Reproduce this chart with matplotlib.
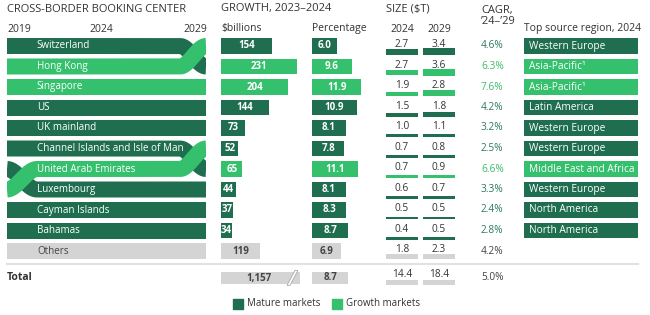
import matplotlib.pyplot as plt
import numpy as np

plt.rcParams['font.family'] = ['Open Sans', 'DejaVu Sans']

# data
centers = ["Switzerland", "Hong Kong", "Singapore", "US", "UK mainland",
           "Channel Islands and Isle of Man", "United Arab Emirates",
           "Luxembourg", "Cayman Islands", "Bahamas", "Others"]
market = ["mature", "growth", "growth", "mature", "mature", "mature",
          "growth", "mature", "mature", "mature", "other"]
rank_2019 = [0, 1, 2, 3, 4, 5, 7, 6, 8, 9, 10]
rank_2024 = [0, 1, 2, 3, 4, 5, 6, 7, 8, 9, 10]
rank_2029 = [1, 0, 2, 3, 4, 6, 5, 7, 8, 9, 10]
growth_bn = [154, 231, 204, 144, 73, 52, 65, 44, 37, 34, 119]
growth_pct = [6.0, 9.6, 11.9, 10.9, 8.1, 7.8, 11.1, 8.1, 8.3, 8.7, 6.9]
size_2024 = [2.7, 2.7, 1.9, 1.5, 1.0, 0.7, 0.7, 0.6, 0.5, 0.4, 1.8]
size_2029 = [3.4, 3.6, 2.8, 1.8, 1.1, 0.8, 0.9, 0.7, 0.5, 0.5, 2.3]
cagr = [4.6, 6.3, 7.6, 4.2, 3.2, 2.5, 6.6, 3.3, 2.4, 2.8, 4.2]
source_region = ["Western Europe", "Asia-Pacific\u00b9", "Asia-Pacific\u00b9",
                 "Latin America", "Western Europe", "Western Europe",
                 "Middle East and Africa", "Western Europe", "North America",
                 "North America"]
total_bn = 1157
total_pct = 8.7
total_2024 = 14.4
total_2029 = 18.4
total_cagr = 5.0

DARK = '#1e6e4f'
LIGHT = '#34c06c'
GRAY = '#d4d4d4'
TXT = '#333333'
fill = {'mature': DARK, 'growth': LIGHT, 'other': GRAY}
cagr_col = {'mature': '#2c7a5a', 'growth': '#3dbb6a', 'other': '#444444'}

W, H = 650, 315
ROW, TOP = 20.5, 46.0
BH = 0.78  # bar height in rows


def py(px):
    return (px - TOP) / ROW


fig = plt.figure(figsize=(W / 100, H / 100), dpi=100)
ax = fig.add_axes([0, 0, 1, 1])
ax.set_xlim(0, W)
ax.set_ylim(py(H), py(0))
ax.axis('off')


def panel(x0, width):
    a = fig.add_axes([x0 / W, 0, width / W, 1])
    a.set_ylim(py(H), py(0))
    a.axis('off')
    return a


# headers
hd = dict(fontsize=8, color=TXT, va='center')
ax.text(7, py(9), "CROSS-BORDER BOOKING CENTER", **hd)
ax.text(221, py(9), "GROWTH, 2023\u20132024", **hd)
ax.text(386, py(9), "SIZE ($T)", **hd)
ax.text(481, py(10), "CAGR,", **hd)
ax.text(481, py(21), "\u201924\u2013\u201929", **hd)
sub = dict(fontsize=7.5, color=TXT, va='center')
ax.text(7, py(29), "2019", **sub)
ax.text(101, py(29), "2024", ha='center', **sub)
ax.text(207, py(29), "2029", ha='right', **sub)
ax.text(221, py(29), "$billions", **sub)
ax.text(312, py(29), "Percentage", **sub)
ax.text(402, py(29), "2024", ha='center', **sub)
ax.text(439, py(29), "2029", ha='center', **sub)
ax.text(524, py(29), "Top source region, 2024", **sub)

# bump chart of booking centers
axb = panel(7, 199)
axb.set_xlim(2019, 2029)
xs = np.linspace(2019, 2029, 800)
band_pt = BH * ROW * 0.72  # band thickness in points


def smooth(t):
    t = np.clip(t, 0, 1)
    return 3 * t ** 2 - 2 * t ** 3


for i, name in enumerate(centers):
    r19, r24, r29 = rank_2019[i], rank_2024[i], rank_2029[i]
    yc = np.full_like(xs, float(r24))
    left = xs < 2020.5
    yc[left] = r19 + (r24 - r19) * smooth((xs[left] - 2019) / 1.5)
    right = xs > 2027.7
    yc[right] = r24 + (r29 - r24) * smooth((xs[right] - 2027.7) / 1.3)
    z = 3 if market[i] == 'growth' else 2
    axb.plot(xs, yc, color=fill[market[i]], lw=band_pt,
             solid_capstyle='butt', zorder=z)
    axb.text(2020.5 if market[i] != 'other' else 2020.55, r24, name,
             color='white' if market[i] != 'other' else '#444444',
             fontsize=7.1, va='center', zorder=5)

# growth in $billions
PX_BN = 0.33
axbn = panel(221, 120)
axbn.set_xlim(0, 120 / PX_BN)
cols = [fill[m] for m in market]
axbn.barh(rank_2024, growth_bn, height=BH, color=cols)
for r, v, m in zip(rank_2024, growth_bn, market):
    axbn.text(v / 2, r, f"{v}", ha='center', va='center', fontsize=7,
              fontweight='bold', color='white' if m != 'other' else '#444444')
yt = py(278)
shown = 79 / PX_BN  # broken bar, truncated
axbn.barh(yt, shown, height=BH * 0.8, color=GRAY)
yb0, yb1 = yt + BH * 0.4, yt - BH * 0.4
brk = np.array([(200, yb0 + 0.05), (209, yb0 + 0.05), (233, yb1 - 0.05), (224, yb1 - 0.05)])
axbn.fill(brk[:, 0], brk[:, 1], color='white', ec='#aaaaaa', lw=0.6, zorder=3)
axbn.text(shown / 2 - 5, yt, f"{total_bn:,}", ha='center', va='center',
          fontsize=7, fontweight='bold', color='#444444')

# growth in percent
PX_PCT = 4.15
axp = panel(312, 60)
axp.set_xlim(0, 60 / PX_PCT)
axp.barh(rank_2024, growth_pct, height=BH, color=cols)
for r, v, m in zip(rank_2024, growth_pct, market):
    axp.text(v / 2, r, f"{v:.1f}", ha='center', va='center', fontsize=7,
             fontweight='bold', color='white' if m != 'other' else '#444444')
axp.barh(yt, total_pct, height=BH * 0.8, color=GRAY)
axp.text(total_pct / 2, yt, f"{total_pct:.1f}", ha='center', va='center',
         fontsize=7, fontweight='bold', color='#444444')

# size ($T) with underlines
for xc, vals in ((402, size_2024), (439, size_2029)):
    for r, v, m in zip(rank_2024, vals, market):
        th = (5 if m == 'other' else 1.5 + 1.5 * v) / ROW
        base = r + (8 if m == 'other' else 9) / ROW
        ax.bar(xc, th, width=32, bottom=base - th, color=fill[m])
        ax.text(xc, r - 0.07, f"{v:.1f}", ha='center', va='center',
                fontsize=7.3, color=TXT)
for xc, v in ((402, total_2024), (439, total_2029)):
    th = 5 / ROW
    ax.bar(xc, th, width=32, bottom=py(285) - th, color=GRAY)
    ax.text(xc, py(274.5), f"{v:.1f}", ha='center', va='center',
            fontsize=7.3, color=TXT)

# CAGR
for r, v, m in zip(rank_2024, cagr, market):
    ax.text(481, r, f"{v:.1f}%", va='center', fontsize=7.3, color=cagr_col[m])
ax.text(481, py(277), f"{total_cagr:.1f}%", va='center', fontsize=7.3,
        color='#444444')

# top source region
for r, reg, m in zip(rank_2024, source_region, market):
    ax.barh(r, 114, left=524, height=BH, color=fill[m])
    ax.text(529, r, reg, va='center', fontsize=7.3, color='white')

# total row and separator
ax.plot([7, 638], [py(263.5)] * 2, color='#e2e2e2', lw=1.5)
ax.text(7, py(277), "Total", va='center', fontsize=7.5, fontweight='bold',
        color=TXT)

# legend
ax.scatter([237.5], [py(304)], marker='s', s=45, color=DARK)
ax.text(247, py(304), "Mature markets", va='center', fontsize=7, color=TXT)
ax.scatter([336.5], [py(304)], marker='s', s=45, color=LIGHT)
ax.text(346, py(304), "Growth markets", va='center', fontsize=7, color=TXT)

fig.savefig('out.png', dpi=100)
